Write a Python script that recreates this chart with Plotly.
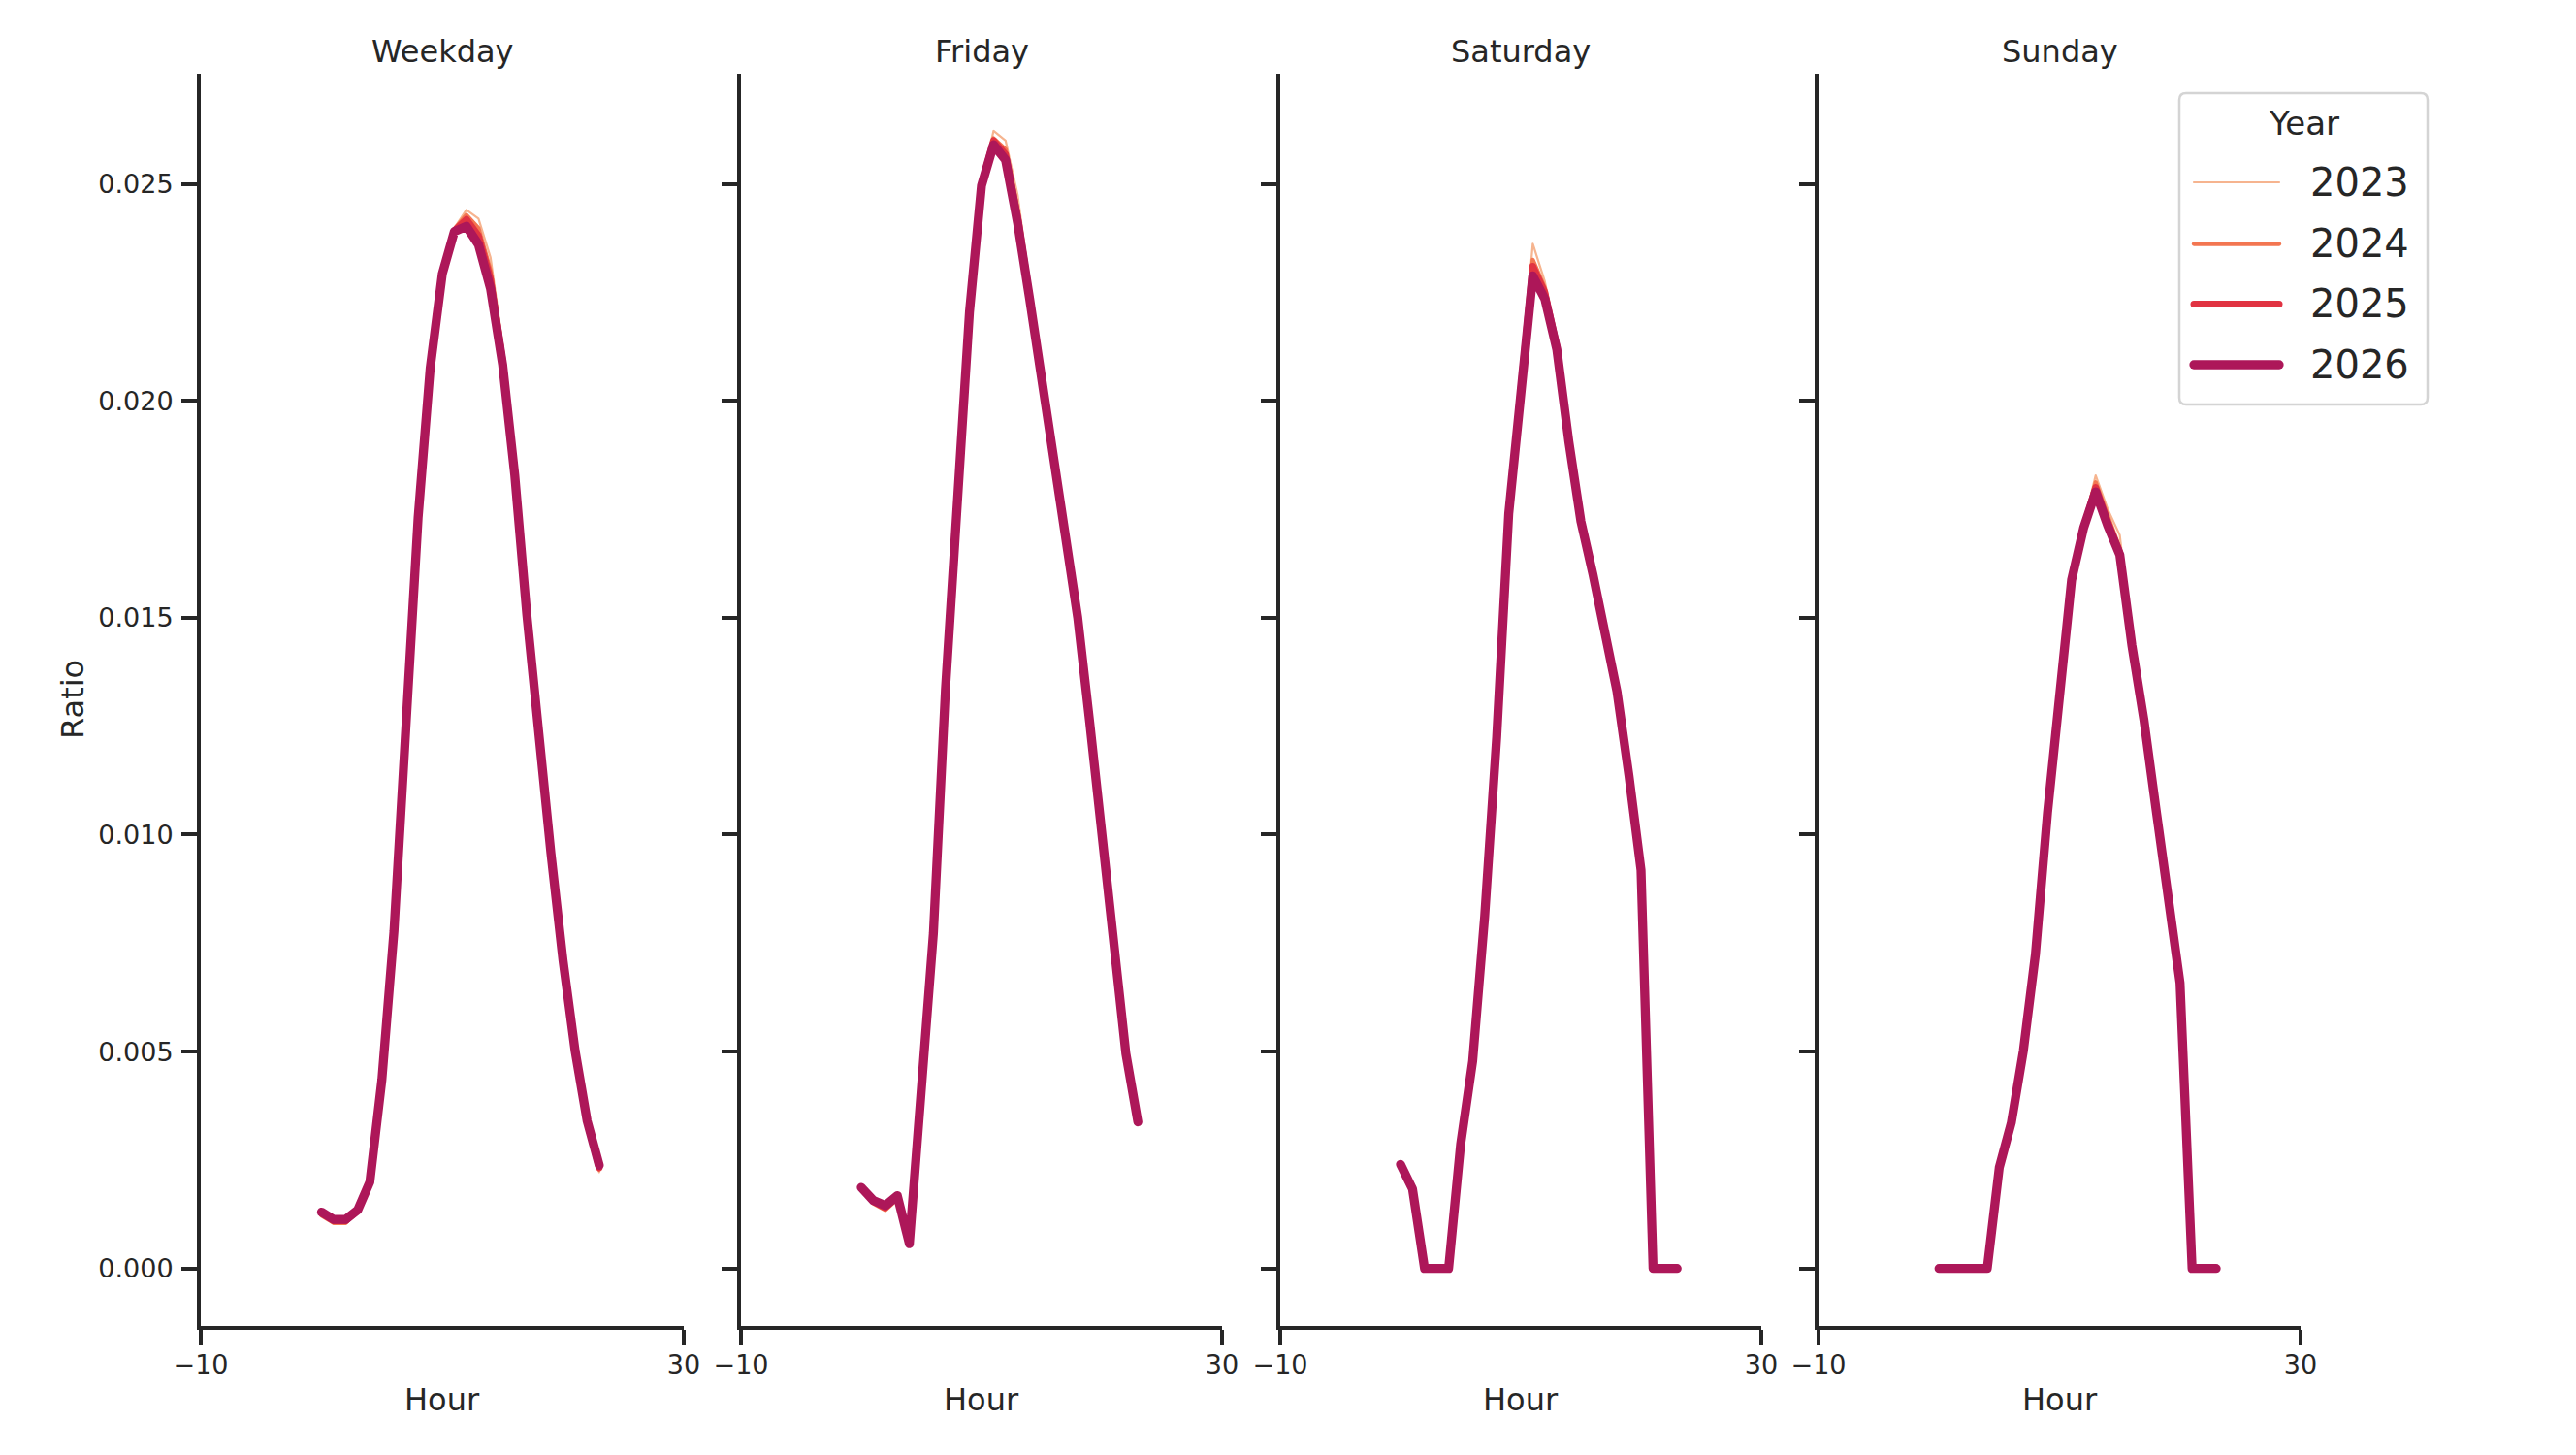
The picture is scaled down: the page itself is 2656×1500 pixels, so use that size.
import plotly.graph_objects as go

# ---------------- data ----------------
hours = list(range(24))
years = ["2023", "2024", "2025", "2026"]
days = ["Weekday", "Friday", "Saturday", "Sunday"]

weekday_2023 = [0.00128, 0.00103, 0.00104, 0.00132, 0.00197, 0.00435, 0.00777, 0.01270, 0.01732, 0.02078,
                0.02298, 0.02398, 0.02440, 0.02420, 0.02330, 0.02130, 0.01855, 0.01520, 0.01220, 0.00958,
                0.00710, 0.00500, 0.00336, 0.00222]
weekday_2024 = [0.00122, 0.00105, 0.00105, 0.00133, 0.00198, 0.00435, 0.00777, 0.01270, 0.01731, 0.02076,
                0.02295, 0.02395, 0.02428, 0.02398, 0.02300, 0.02110, 0.01840, 0.01512, 0.01217, 0.00957,
                0.00710, 0.00501, 0.00338, 0.00228]
weekday_2025 = [0.00128, 0.00110, 0.00110, 0.00134, 0.00199, 0.00435, 0.00777, 0.01270, 0.01730, 0.02075,
                0.02293, 0.02392, 0.02418, 0.02380, 0.02280, 0.02092, 0.01835, 0.01510, 0.01215, 0.00957,
                0.00710, 0.00502, 0.00339, 0.00232]
weekday_2026 = [0.00130, 0.00113, 0.00113, 0.00135, 0.00199, 0.00435, 0.00777, 0.01270, 0.01730, 0.02075,
                0.02292, 0.02390, 0.02402, 0.02360, 0.02258, 0.02083, 0.01830, 0.01508, 0.01215, 0.00957,
                0.00710, 0.00502, 0.00340, 0.00238]

friday_2023 = [0.00185, 0.00152, 0.00140, 0.00165, 0.00057, 0.00440, 0.00773, 0.01333, 0.01790, 0.02205,
               0.02500, 0.02622, 0.02600, 0.02475, 0.02270, 0.02080, 0.01885, 0.01698, 0.01500, 0.01258,
               0.01010, 0.00740, 0.00496, 0.00336]
friday_2024 = [0.00186, 0.00150, 0.00135, 0.00160, 0.00057, 0.00440, 0.00773, 0.01333, 0.01790, 0.02205,
               0.02498, 0.02605, 0.02580, 0.02440, 0.02250, 0.02065, 0.01880, 0.01696, 0.01500, 0.01258,
               0.01010, 0.00740, 0.00496, 0.00337]
friday_2025 = [0.00187, 0.00155, 0.00140, 0.00166, 0.00057, 0.00440, 0.00773, 0.01333, 0.01790, 0.02205,
               0.02497, 0.02600, 0.02568, 0.02425, 0.02240, 0.02060, 0.01878, 0.01695, 0.01500, 0.01258,
               0.01010, 0.00740, 0.00496, 0.00338]
friday_2026 = [0.00187, 0.00157, 0.00145, 0.00168, 0.00057, 0.00440, 0.00773, 0.01333, 0.01790, 0.02205,
               0.02496, 0.02590, 0.02555, 0.02410, 0.02235, 0.02058, 0.01878, 0.01695, 0.01500, 0.01258,
               0.01010, 0.00740, 0.00496, 0.00338]

saturday_2023 = [0.00240, 0.00183, 0.0, 0.0, 0.0, 0.00286, 0.00478, 0.00812, 0.01225, 0.01740,
                 0.02040, 0.02362, 0.02275, 0.02140, 0.01915, 0.01725, 0.01602, 0.01468, 0.01330, 0.01135,
                 0.00918, 0.0, 0.0, 0.0]
saturday_2024 = [0.00240, 0.00183, 0.0, 0.0, 0.0, 0.00286, 0.00478, 0.00812, 0.01225, 0.01740,
                 0.02036, 0.02325, 0.02260, 0.02130, 0.01910, 0.01723, 0.01600, 0.01468, 0.01330, 0.01135,
                 0.00918, 0.0, 0.0, 0.0]
saturday_2025 = [0.00240, 0.00183, 0.0, 0.0, 0.0, 0.00286, 0.00478, 0.00812, 0.01225, 0.01740,
                 0.02035, 0.02310, 0.02250, 0.02125, 0.01907, 0.01722, 0.01600, 0.01468, 0.01330, 0.01135,
                 0.00918, 0.0, 0.0, 0.0]
saturday_2026 = [0.00240, 0.00183, 0.0, 0.0, 0.0, 0.00286, 0.00478, 0.00812, 0.01225, 0.01740,
                 0.02034, 0.02288, 0.02235, 0.02118, 0.01905, 0.01722, 0.01600, 0.01468, 0.01330, 0.01135,
                 0.00918, 0.0, 0.0, 0.0]

sunday_2023 = [0.0, 0.0, 0.0, 0.0, 0.0, 0.00233, 0.00336, 0.00502, 0.00724, 0.01050,
               0.01312, 0.01590, 0.01715, 0.01828, 0.01750, 0.01690, 0.01450, 0.01268, 0.01060, 0.00850,
               0.00658, 0.0, 0.0, 0.0]
sunday_2024 = [0.0, 0.0, 0.0, 0.0, 0.0, 0.00233, 0.00336, 0.00502, 0.00724, 0.01050,
               0.01311, 0.01588, 0.01710, 0.01812, 0.01735, 0.01660, 0.01440, 0.01266, 0.01060, 0.00850,
               0.00658, 0.0, 0.0, 0.0]
sunday_2025 = [0.0, 0.0, 0.0, 0.0, 0.0, 0.00233, 0.00336, 0.00502, 0.00724, 0.01050,
               0.01310, 0.01587, 0.01708, 0.01800, 0.01720, 0.01650, 0.01438, 0.01265, 0.01060, 0.00850,
               0.00658, 0.0, 0.0, 0.0]
sunday_2026 = [0.0, 0.0, 0.0, 0.0, 0.0, 0.00233, 0.00336, 0.00502, 0.00724, 0.01050,
               0.01310, 0.01587, 0.01707, 0.01790, 0.01712, 0.01645, 0.01437, 0.01265, 0.01060, 0.00850,
               0.00658, 0.0, 0.0, 0.0]

x_ticks = [-10, 30]
y_ticks = [0.0, 0.005, 0.010, 0.015, 0.020, 0.025]

ratio = {
    "Weekday": {"2023": weekday_2023, "2024": weekday_2024, "2025": weekday_2025, "2026": weekday_2026},
    "Friday": {"2023": friday_2023, "2024": friday_2024, "2025": friday_2025, "2026": friday_2026},
    "Saturday": {"2023": saturday_2023, "2024": saturday_2024, "2025": saturday_2025, "2026": saturday_2026},
    "Sunday": {"2023": sunday_2023, "2024": sunday_2024, "2025": sunday_2025, "2026": sunday_2026},
}

# ---------------- styles ----------------
W, H = 2656, 1500
colors = {"2023": "#f6b48f", "2024": "#f37651", "2025": "#e13342", "2026": "#ad1759"}
widths = {"2023": 2.2, "2024": 4.3, "2025": 7.0, "2026": 9.3}
ink = "#262626"
font_family = "DejaVu Sans, Liberation Sans, sans-serif"

panel_px = [(207, 705), (764, 1260), (1320, 1816), (1875, 2372)]
top_px, bottom_px = 76, 1367
ydom = [1 - bottom_px / H, 1 - top_px / H]

fig = go.Figure()

for i, day in enumerate(days):
    xa = "x" if i == 0 else f"x{i+1}"
    ya = "y" if i == 0 else f"y{i+1}"
    for yr in years:
        fig.add_trace(go.Scatter(
            x=hours, y=ratio[day][yr], mode="lines", name=yr,
            line=dict(color=colors[yr], width=widths[yr]),
            xaxis=xa, yaxis=ya, showlegend=False,
            legendgroup=yr,
        ))

layout = dict(
    width=W, height=H,
    margin=dict(l=0, r=0, t=0, b=0, autoexpand=False),
    paper_bgcolor="white", plot_bgcolor="white",
    font=dict(family=font_family, color=ink, size=27),
    showlegend=False,
)

yrange = [-0.001326, 0.027538]
for i, day in enumerate(days):
    x0, x1 = panel_px[i]
    xkey = "xaxis" if i == 0 else f"xaxis{i+1}"
    ykey = "yaxis" if i == 0 else f"yaxis{i+1}"
    layout[xkey] = dict(
        domain=[x0 / W, x1 / W], range=[-10, 30], automargin=False,
        anchor="y" if i == 0 else f"y{i+1}",
        tickmode="array", tickvals=x_ticks, ticktext=["\u221210", "30"],
        showgrid=False, zeroline=False,
        showline=True, linecolor=ink, linewidth=4,
        ticks="outside", ticklen=16, tickwidth=4, tickcolor=ink,
        ticklabelstandoff=-3,
        tickfont=dict(size=27, color=ink, family=font_family),
    )
    layout[ykey] = dict(
        domain=ydom, range=yrange, automargin=False,
        anchor="x" if i == 0 else f"x{i+1}",
        tickmode="array", tickvals=y_ticks,
        tickformat=".3f",
        showticklabels=(i == 0),
        showgrid=False, zeroline=False,
        showline=True, linecolor=ink, linewidth=4,
        ticks="outside", ticklen=16, tickwidth=4, tickcolor=ink,
        ticklabelstandoff=3,
        tickfont=dict(size=27, color=ink, family=font_family),
    )
    if i > 0:
        layout[ykey]["matches"] = "y"

fig.update_layout(**layout)

annotations = []
shapes = []
for i, day in enumerate(days):
    x0, x1 = panel_px[i]
    cx = (x0 + x1) / 2 / W
    annotations.append(dict(text=day, x=cx, y=1 - 53 / H, xref="paper", yref="paper",
                            xanchor="center", yanchor="middle", showarrow=False,
                            font=dict(size=32, color=ink, family=font_family)))
    annotations.append(dict(text="Hour", x=cx, y=1 - 1443 / H, xref="paper", yref="paper",
                            xanchor="center", yanchor="middle", showarrow=False,
                            font=dict(size=32, color=ink, family=font_family)))
annotations.append(dict(text="Ratio", x=74.5 / W, y=1 - (top_px + bottom_px) / 2 / H,
                        xref="paper", yref="paper", textangle=-90,
                        xanchor="center", yanchor="middle", showarrow=False,
                        font=dict(size=32, color=ink, family=font_family)))

# ---- manual legend ----
lx0, lx1, ly0, ly1 = 2247, 2503, 96, 417
r = 7
def px(x):
    return x / W
def py(y):
    return 1 - y / H
path = (f"M {px(lx0 + r)},{py(ly0)} L {px(lx1 - r)},{py(ly0)} "
        f"Q {px(lx1)},{py(ly0)} {px(lx1)},{py(ly0 + r)} "
        f"L {px(lx1)},{py(ly1 - r)} Q {px(lx1)},{py(ly1)} {px(lx1 - r)},{py(ly1)} "
        f"L {px(lx0 + r)},{py(ly1)} Q {px(lx0)},{py(ly1)} {px(lx0)},{py(ly1 - r)} "
        f"L {px(lx0)},{py(ly0 + r)} Q {px(lx0)},{py(ly0)} {px(lx0 + r)},{py(ly0)} Z")
shapes.append(dict(type="path", path=path, xref="paper", yref="paper",
                   line=dict(color="#d4d4d4", width=2.5), fillcolor="rgba(255,255,255,0.8)"))
annotations.append(dict(text="Year", x=px(2375), y=py(127.5), xref="paper", yref="paper",
                        xanchor="center", yanchor="middle", showarrow=False,
                        font=dict(size=34, color=ink, family=font_family)))
entry_y = [188, 251.5, 313.5, 376]
for yr, ey in zip(years, entry_y):
    shapes.append(dict(type="line", xref="paper", yref="paper",
                       x0=px(2262), x1=px(2350), y0=py(ey), y1=py(ey),
                       line=dict(color=colors[yr], width=widths[yr])))
    annotations.append(dict(text=yr, x=px(2380), y=py(ey), xref="paper", yref="paper",
                            xanchor="left", yanchor="middle", showarrow=False,
                            font=dict(size=40, color=ink, family=font_family)))

fig.update_layout(annotations=annotations, shapes=shapes)

# round line caps / joins like the reference renderer
post_js = (
    "var s=document.createElement('style');"
    "s.innerHTML='.scatterlayer .js-line{stroke-linejoin:round;stroke-linecap:round;}"
    " .shapelayer path{stroke-linecap:round;stroke-linejoin:round;}';"
    "document.head.appendChild(s);"
)
fig.write_html("out.html", post_script=post_js)
